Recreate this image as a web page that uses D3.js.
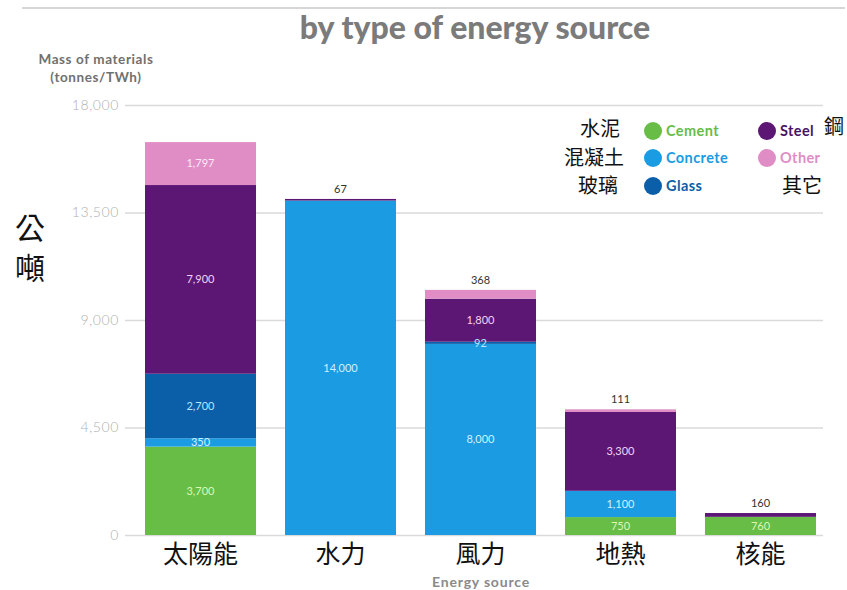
<!DOCTYPE html>
<html>
<head>
<meta charset="utf-8">
<script src="https://cdn.jsdelivr.net/npm/d3@7"></script>
<style>
  body { margin: 0; background: #fff; }
  svg { display: block; }
</style>
</head>
<body>
<svg></svg>
<script>
// data
const sources = ['太陽能', '水力', '風力', '地熱', '核能'];
const materials = ['Cement', 'Concrete', 'Glass', 'Steel', 'Other'];
const materialsZh = ['水泥', '混凝土', '玻璃', '鋼', '其它'];
const cement   = [3700, 0, 0, 750, 760];
const concrete = [350, 14000, 8000, 1100, 0];
const glass    = [2700, 0, 92, 0, 0];
const steel    = [7900, 67, 1800, 3300, 160];
const other    = [1797, 0, 368, 111, 0];
const yTicks = [0, 4500, 9000, 13500, 18000];

const colors = ['#67bd45', '#1a9be2', '#0b5fa8', '#5c1775', '#e08dc6'];
const labelColors = ['#dcf7b8', '#d0f1ff', '#b5e6ff', '#f1d3f6', '#fce8f6'];

let width = 847;
let height = 590;
let svg = d3.select('svg').attr('width', width).attr('height', height);

let table = sources.map((s, i) => ({
    source: s,
    Cement: cement[i], Concrete: concrete[i], Glass: glass[i], Steel: steel[i], Other: other[i]
}));
let series = d3.stack().keys(materials)(table);

let xScale = d3.scaleBand().domain(sources).range([131, 830]).paddingInner(0.207).paddingOuter(0.1);
let yScale = d3.scaleLinear().domain([0, 18000]).range([535, 105]);

// top rule
svg.append('line')
    .attr('x1', 22).attr('x2', 845).attr('y1', 8).attr('y2', 8)
    .attr('stroke', '#d6d6d6').attr('stroke-width', 2);

// title
svg.append('text')
    .attr('x', 475).attr('y', 39)
    .attr('text-anchor', 'middle')
    .style('font-family', 'Lato, sans-serif').style('font-weight', 900).style('font-size', '32px')
    .attr('fill', '#7b7b7b')
    .text('by type of energy source');

// axis title
let yTitle = svg.append('text')
    .attr('text-anchor', 'middle')
    .style('font-family', 'Lato, sans-serif').style('font-weight', 700).style('font-size', '13.5px')
    .style('letter-spacing', '0.6px')
    .attr('fill', '#707070');
yTitle.append('tspan').attr('x', 96).attr('y', 64).text('Mass of materials');
yTitle.append('tspan').attr('x', 96).attr('y', 82).text('(tonnes/TWh)');

// grid + y ticks
let yAxis = d3.axisLeft(yScale).tickValues(yTicks).tickSize(-(823 - 125)).tickPadding(6)
    .tickFormat(d3.format(','));
let yAxisLayer = svg.append('g').attr('transform', 'translate(125,0)').call(yAxis);
yAxisLayer.select('.domain').remove();
yAxisLayer.selectAll('line').attr('stroke', '#dadada').attr('stroke-width', 1.5);
yAxisLayer.selectAll('text')
    .style('font-family', 'Lato, sans-serif').style('font-weight', 300).style('font-size', '14px')
    .style('letter-spacing', '0.6px')
    .attr('fill', '#b0b0b0');

// 公噸
svg.append('text').attr('x', 30).attr('y', 228).attr('dy', '0.35em').attr('text-anchor', 'middle')
    .style('font-family', '"Noto Sans CJK TC", sans-serif').style('font-size', '30px')
    .attr('fill', '#111').text('公');
svg.append('text').attr('x', 30).attr('y', 268).attr('dy', '0.35em').attr('text-anchor', 'middle')
    .style('font-family', '"Noto Sans CJK TC", sans-serif').style('font-size', '30px')
    .attr('fill', '#111').text('噸');

// bars
let barg = svg.append('g');
series.forEach((s, k) => {
    barg.selectAll(null)
        .data(s.filter(d => d[1] - d[0] > 0))
        .enter()
        .append('rect')
        .attr('x', d => xScale(d.data.source))
        .attr('y', d => yScale(d[1]))
        .attr('width', xScale.bandwidth())
        .attr('height', d => yScale(d[0]) - yScale(d[1]))
        .attr('fill', colors[k]);
});

// value labels
let fmt = d3.format(',');
series.forEach((s, k) => {
    s.forEach((d, i) => {
        let v = d[1] - d[0];
        if (v <= 0) return;
        let isTop = series.slice(k + 1).every(s2 => s2[i][1] - s2[i][0] <= 0);
        let cx = xScale(d.data.source) + xScale.bandwidth() / 2;
        if (isTop && v < 500) {
            svg.append('text')
                .attr('x', cx).attr('y', yScale(d[1]) - 6)
                .attr('text-anchor', 'middle')
                .style('font-family', 'Lato, sans-serif').style('font-size', '11px')
                .attr('fill', '#333')
                .text(fmt(v));
        } else {
            svg.append('text')
                .attr('x', cx).attr('y', (yScale(d[0]) + yScale(d[1])) / 2)
                .attr('dy', '0.35em')
                .attr('text-anchor', 'middle')
                .style('font-family', 'Lato, sans-serif').style('font-size', '11px')
                .attr('fill', labelColors[k])
                .text(fmt(v));
        }
    });
});

// x labels
let xAxis = d3.axisBottom(xScale).tickSize(0).tickPadding(10);
let xAxisLayer = svg.append('g').attr('transform', 'translate(0,535)').call(xAxis);
xAxisLayer.select('.domain').remove();
xAxisLayer.selectAll('text')
    .style('font-family', '"Noto Sans CJK TC", sans-serif').style('font-size', '25px')
    .attr('fill', '#111');

svg.append('text')
    .attr('x', 481).attr('y', 587)
    .attr('text-anchor', 'middle')
    .style('font-family', 'Lato, sans-serif').style('font-weight', 700).style('font-size', '14px')
    .style('letter-spacing', '0.8px')
    .attr('fill', '#8a8a8a')
    .text('Energy source');

// legend
let legendPos = [
    { cx: 653, cy: 131 }, { cx: 653, cy: 158 }, { cx: 653, cy: 186 },
    { cx: 767, cy: 131 }, { cx: 767, cy: 158 }
];
let zhPos = [
    { x: 600, y: 129 }, { x: 594, y: 158 }, { x: 598, y: 186 },
    { x: 834, y: 127 }, { x: 802, y: 186 }
];
let legend = svg.append('g');
materials.forEach((m, k) => {
    legend.append('circle')
        .attr('cx', legendPos[k].cx).attr('cy', legendPos[k].cy).attr('r', 9)
        .attr('fill', colors[k]);
    legend.append('text')
        .attr('x', legendPos[k].cx + 13).attr('y', legendPos[k].cy).attr('dy', '0.35em')
        .style('font-family', 'Lato, sans-serif').style('font-weight', 700).style('font-size', '14.5px')
        .style('letter-spacing', '0.4px')
        .attr('fill', k === 3 ? '#4a1460' : colors[k])
        .text(m);
    legend.append('text')
        .attr('x', zhPos[k].x).attr('y', zhPos[k].y).attr('dy', '0.35em')
        .attr('text-anchor', 'middle')
        .style('font-family', '"Noto Sans CJK TC", sans-serif').style('font-size', '20px')
        .attr('fill', '#111')
        .text(materialsZh[k]);
});
</script>
</body>
</html>
